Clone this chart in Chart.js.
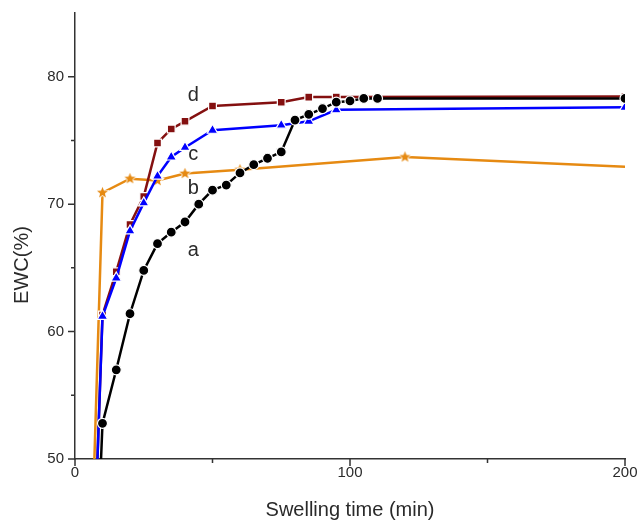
<!DOCTYPE html>
<html>
<head>
<meta charset="utf-8">
<script src="https://cdn.jsdelivr.net/npm/chart.js@4.4.1/dist/chart.umd.min.js"></script>
<style>
  html, body { margin: 0; padding: 0; background: #fff; }
  #wrap { width: 637px; height: 522px; }
</style>
</head>
<body>
<div id="wrap"><canvas id="ewc" width="637" height="522"></canvas></div>
<script>
/* EWC (%) against swelling time (min), samples a–d */
const timeA = [0, 10, 15, 20, 25, 30, 35, 40, 45, 50, 55, 60, 65, 70, 75, 80, 85, 90, 95, 100, 105, 110, 200];
const ewcA  = [0, 52.8, 57.0, 61.4, 64.8, 66.9, 67.8, 68.6, 70.0, 71.1, 71.5, 72.45, 73.1, 73.6, 74.1, 76.6, 77.05, 77.5, 78.0, 78.1, 78.3, 78.3, 78.3];
const timeB = [0, 10, 20, 30, 40, 60, 120, 240];
const ewcB  = [0, 70.9, 72.0, 71.85, 72.4, 72.7, 73.7, 72.55];
const timeC = [0, 10, 15, 20, 25, 30, 35, 40, 50, 75, 85, 95, 200];
const ewcC  = [0, 61.2, 64.2, 67.9, 70.1, 72.2, 73.7, 74.45, 75.8, 76.2, 76.5, 77.4, 77.6];
const timeD = [0, 10, 15, 20, 25, 30, 35, 40, 50, 75, 85, 95, 200];
const ewcD  = [0, 61.3, 64.7, 68.4, 70.6, 74.8, 75.9, 76.5, 77.7, 78.0, 78.4, 78.4, 78.45];

const xTicks = [0, 100, 200];
const xMinor = [50, 150];
const yTicks = [50, 60, 70, 80];
const yMinor = [55, 65, 75];

// curve letters, placed in data units
const tagText = ['a', 'b', 'c', 'd'];
const tagTime = [43, 43, 43, 43];
const tagEwc  = [66.4, 71.2, 73.9, 78.5];

const FONT = "'Liberation Sans', Arial, sans-serif";
const INK = '#2a2a2a';

const pts = (xs, ys) => xs.map((x, i) => ({ x, y: ys[i] }));

// five-pointed star marker with a white gap ring
function starMarker(color) {
  const c = document.createElement('canvas');
  c.width = c.height = 15;
  const g = c.getContext('2d');
  g.beginPath();
  for (let i = 0; i < 10; i++) {
    const r = i % 2 ? 2.5 : 5.8;
    const a = -Math.PI / 2 + i * Math.PI / 5;
    g.lineTo(7.5 + r * Math.cos(a), 7.5 + r * Math.sin(a));
  }
  g.closePath();
  g.lineWidth = 1.5;
  g.strokeStyle = '#fff';
  g.stroke();
  g.fillStyle = color;
  g.fill();
  return c;
}

function series(label, data, color, style, radius, order) {
  return {
    label, data, order,
    clip: 0,
    borderColor: color,
    backgroundColor: color,
    borderWidth: 2.5,
    tension: 0,
    pointStyle: style,
    pointRadius: radius,
    pointBackgroundColor: color,
    pointBorderColor: '#fff',
    pointBorderWidth: 1.2
  };
}

// minor/major ticks, the y title and the curve letters
const extras = {
  id: 'extras',
  afterDraw(chart) {
    const { ctx, chartArea: ca, scales: { x, y } } = chart;
    ctx.save();
    ctx.strokeStyle = '#333';
    ctx.lineWidth = 1.5;
    ctx.beginPath();
    xTicks.forEach(v => { const px = x.getPixelForValue(v); ctx.moveTo(px, ca.bottom); ctx.lineTo(px, ca.bottom + 7); });
    xMinor.forEach(v => { const px = x.getPixelForValue(v); ctx.moveTo(px, ca.bottom); ctx.lineTo(px, ca.bottom + 4); });
    yTicks.forEach(v => { const py = y.getPixelForValue(v); ctx.moveTo(ca.left, py); ctx.lineTo(ca.left - 7, py); });
    yMinor.forEach(v => { const py = y.getPixelForValue(v); ctx.moveTo(ca.left, py); ctx.lineTo(ca.left - 4, py); });
    ctx.stroke();

    ctx.fillStyle = INK;
    ctx.font = '20px ' + FONT;
    ctx.textAlign = 'center';
    ctx.textBaseline = 'middle';
    tagText.forEach((t, i) => ctx.fillText(t, x.getPixelForValue(tagTime[i]), y.getPixelForValue(tagEwc[i])));

    ctx.translate(22.5, 265);
    ctx.rotate(-Math.PI / 2);
    ctx.fillText('EWC(%)', 0, 0);
    ctx.restore();
  }
};

new Chart(document.getElementById('ewc'), {
  type: 'line',
  data: {
    datasets: [
      series('a', pts(timeA, ewcA), '#000000', 'circle', 5, 1),
      series('c', pts(timeC, ewcC), '#0000ff', 'triangle', 6, 2),
      series('d', pts(timeD, ewcD), '#841010', 'rect', 5.5, 3),
      series('b', pts(timeB, ewcB), '#e68a12', starMarker('#e68a12'), 6, 4)
    ]
  },
  options: {
    responsive: false,
    animation: false,
    devicePixelRatio: 1,
    layout: { padding: { top: 12, right: 12, left: 0, bottom: 0 } },
    plugins: { legend: { display: false }, tooltip: { enabled: false } },
    scales: {
      x: {
        type: 'linear',
        min: 0, max: 200,
        afterBuildTicks: s => { s.ticks = xTicks.map(value => ({ value })); },
        afterFit: s => { s.height = 63; s.paddingRight = 0; s.paddingLeft = 0; },
        grid: { display: true, drawOnChartArea: false, drawTicks: true, tickLength: 7, tickColor: 'rgba(0,0,0,0)' },
        border: { display: true, color: '#333', width: 1.5 },
        ticks: { color: INK, font: { family: FONT, size: 15 }, padding: -2, maxRotation: 0 },
        title: { display: true, text: 'Swelling time (min)', color: INK, font: { family: FONT, size: 20 }, padding: { top: 0, bottom: 0 } }
      },
      y: {
        min: 50, max: 85,
        afterBuildTicks: s => { s.ticks = yTicks.map(value => ({ value })); },
        afterFit: s => { s.width = 75; },
        grid: { display: true, drawOnChartArea: false, drawTicks: true, tickLength: 7, tickColor: 'rgba(0,0,0,0)' },
        border: { display: true, color: '#333', width: 1.5 },
        ticks: { color: INK, font: { family: FONT, size: 15 }, padding: 4 }
      }
    }
  },
  plugins: [extras]
});
</script>
</body>
</html>
